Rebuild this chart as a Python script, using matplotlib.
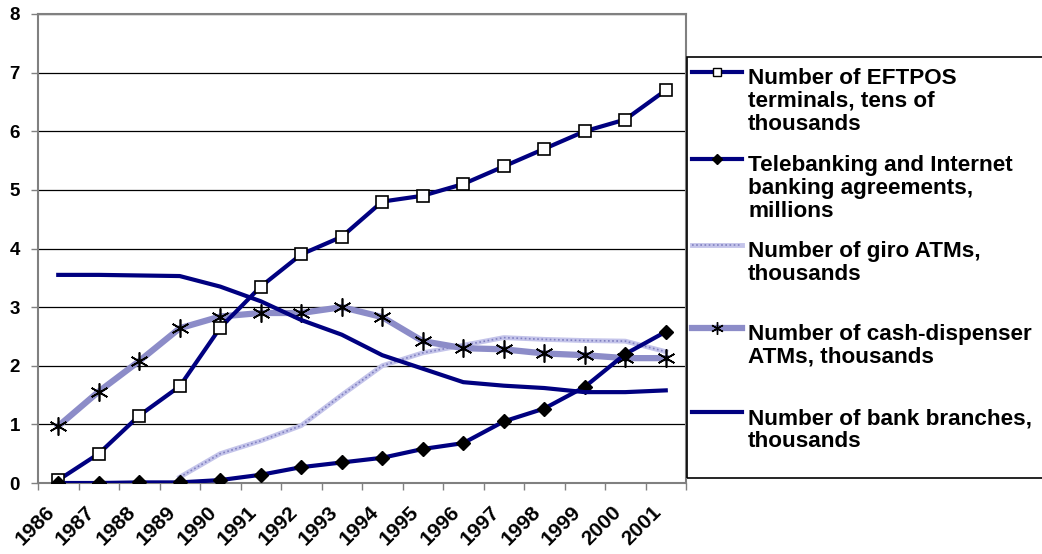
import matplotlib.pyplot as plt
from matplotlib import font_manager
from matplotlib.lines import Line2D
from matplotlib.patches import Rectangle
from matplotlib.transforms import ScaledTranslation

# find an Arial-like bold file and use it directly
bold_file = None
for f in font_manager.fontManager.ttflist:
    base = f.fname.split('/')[-1].lower()
    if base.startswith('liberationsans-bold.'):
        bold_file = f.fname
        break
if bold_file is None:
    bold_file = font_manager.findfont(font_manager.FontProperties(family='DejaVu Sans', weight='bold'))


def bold(size):
    return font_manager.FontProperties(fname=bold_file, size=size)


years = ['1986', '1987', '1988', '1989', '1990', '1991', '1992', '1993',
         '1994', '1995', '1996', '1997', '1998', '1999', '2000', '2001']

eftpos = [0.05, 0.5, 1.15, 1.65, 2.65, 3.35, 3.9, 4.2,
          4.8, 4.9, 5.1, 5.4, 5.7, 6.0, 6.2, 6.7]
telebanking = [0.0, 0.0, 0.01, 0.01, 0.05, 0.14, 0.27, 0.35,
               0.43, 0.58, 0.68, 1.05, 1.27, 1.64, 2.2, 2.58]
giro_atms = [None, None, None, 0.1, 0.5, 0.72, 0.98, 1.5,
             2.0, 2.22, 2.35, 2.48, 2.45, 2.43, 2.42, 2.24]
cash_atms = [0.97, 1.56, 2.08, 2.64, 2.84, 2.9, 2.9, 3.0,
             2.83, 2.42, 2.3, 2.28, 2.21, 2.18, 2.13, 2.13]
branches = [3.55, 3.55, 3.54, 3.53, 3.35, 3.1, 2.78, 2.53,
            2.18, 1.95, 1.72, 1.66, 1.62, 1.55, 1.55, 1.58]

labels = ['Number of EFTPOS\nterminals, tens of\nthousands',
          'Telebanking and Internet\nbanking agreements,\nmillions',
          'Number of giro ATMs,\nthousands',
          'Number of cash-dispenser\nATMs, thousands',
          'Number of bank branches,\nthousands']

navy = '#000080'
giro_col = '#c4c4ea'
giro_dot = '#8080c0'
cash_col = '#8c8cc8'

fig = plt.figure(figsize=(10.42, 5.54), dpi=100)
ax = fig.add_axes([38 / 1042, 1 - 483 / 554, 648 / 1042, 469 / 554])

x = [i + 0.5 for i in range(len(years))]
gx = [xi for xi, v in zip(x, giro_atms) if v is not None]
gy = [v for v in giro_atms if v is not None]

ax.plot(x, eftpos, color=navy, lw=3, marker='s', ms=9, mfc='white',
        mec='black', mew=1.2, zorder=3)
ax.plot(x, telebanking, color=navy, lw=3, marker='D', ms=7, mfc='black',
        mec='black', zorder=3)
# giro ATMs: light band with a fine dotted texture on top
ax.plot(gx, gy, color=giro_col, lw=3.5, zorder=2)
ax.plot(gx, gy, color=giro_dot, lw=1.2, ls=(0, (1, 1.5)), zorder=2.1)
ax.plot(x, cash_atms, color=cash_col, lw=4.5, marker=(6, 2, 0), ms=13,
        mec='black', mew=1.2, zorder=2.5)
ax.plot(x, branches, color=navy, lw=3, zorder=3)

ax.set_xlim(0, 16)
ax.set_ylim(0, 8)
ax.set_yticks(range(0, 9))
ax.yaxis.grid(True, color='black', lw=0.9)
ax.set_axisbelow(True)
ax.tick_params(axis='y', length=5, width=1, color='#808080', pad=8)

ax.set_xticks(x)
ax.set_xticklabels(years, rotation=45, ha='right', va='center',
                   rotation_mode='anchor')
ax.set_xticks(range(0, 17), minor=True)
ax.tick_params(axis='x', which='major', length=0, pad=19)
ax.tick_params(axis='x', which='minor', length=5, width=1, color='#808080')
shift = ScaledTranslation(-7 / 100, 0, fig.dpi_scale_trans)
for t in ax.get_xticklabels():
    t.set_fontproperties(bold(15))
    t.set_transform(t.get_transform() + shift)
for t in ax.get_yticklabels():
    t.set_fontproperties(bold(13.5))

for s in ax.spines.values():
    s.set_color('#808080')
    s.set_linewidth(1.5)

# legend box drawn by hand, it runs off the right edge like the original
fig.add_artist(Rectangle((687 / 1042, 1 - 478 / 554), 400 / 1042, 421 / 554,
                         transform=fig.transFigure, fill=False,
                         edgecolor='black', lw=1.2))

leg_y = [72, 159, 245, 328, 412]
styles = [dict(color=navy, lw=3, marker='s', ms=6, mfc='white', mec='black', mew=1),
          dict(color=navy, lw=3, marker='D', ms=5, mfc='black', mec='black'),
          dict(color=giro_col, lw=3.5),
          dict(color=cash_col, lw=4.5, marker=(6, 2, 0), ms=9, mec='black', mew=1),
          dict(color=navy, lw=3)]
for i, (yy, lab, st) in enumerate(zip(leg_y, labels, styles)):
    fy = 1 - yy / 554
    fig.add_artist(Line2D([692 / 1042, 742 / 1042], [fy, fy],
                          transform=fig.transFigure, markevery=[], **st))
    if i == 2:
        fig.add_artist(Line2D([692 / 1042, 742 / 1042], [fy, fy],
                              transform=fig.transFigure, color=giro_dot,
                              lw=1.2, ls=(0, (1, 1.5))))
    if 'marker' in st:
        fig.add_artist(Line2D([717 / 1042], [fy], transform=fig.transFigure,
                              ls='none', **{k: v for k, v in st.items()
                                            if k not in ('color', 'lw')}))
    fig.text(748 / 1042, fy + 4 / 554, lab, fontproperties=bold(16.2),
             va='top', ha='left', linespacing=1.12)

fig.savefig('out.png', dpi=100)
